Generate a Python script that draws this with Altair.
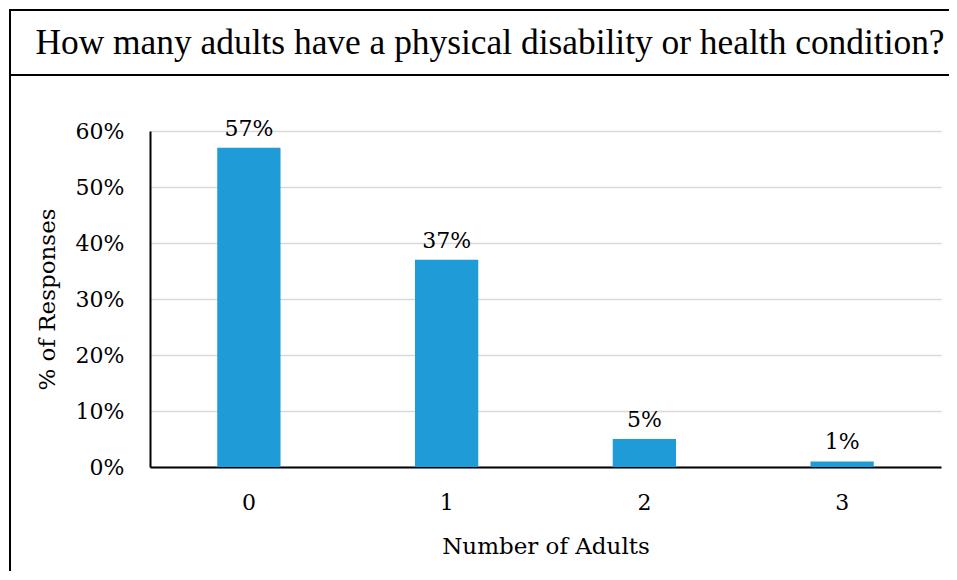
import altair as alt
import pandas as pd

title_text = "How many adults have a physical disability or health condition?"
categories = ["0", "1", "2", "3"]
shares = [0.57, 0.37, 0.05, 0.01]
labels = ["57%", "37%", "5%", "1%"]

df = pd.DataFrame({"adults": categories, "share": shares, "label": labels})

FONT = "DejaVu Serif"

x_enc = alt.X("adults:N", sort=categories, title="Number of Adults",
              scale=alt.Scale(paddingInner=0.68, paddingOuter=0.34),
              axis=alt.Axis(labelAngle=0, labelPadding=25, titlePadding=22,
                            ticks=False, domainColor="black", domainWidth=2))
y_enc = alt.Y("share:Q", title="% of Responses",
              scale=alt.Scale(domain=[0, 0.6]),
              axis=alt.Axis(format=".0%", values=[0, 0.1, 0.2, 0.3, 0.4, 0.5, 0.6],
                            ticks=False, labelPadding=26, titlePadding=16,
                            domainColor="black", domainWidth=2,
                            gridColor="#d9d9d9", gridWidth=1.5))

base = alt.Chart(df)
bars = base.mark_bar(color="#1f9bd7").encode(x=x_enc, y=y_enc)
texts = base.mark_text(baseline="bottom", dy=-7, fontSize=22, font=FONT, color="black").encode(
    x=alt.X("adults:N", sort=categories), y="share:Q", text="label:N")

deco = pd.DataFrame({"t": [title_text]})
top_line = alt.Chart(deco).mark_rule(color="black", strokeWidth=2).encode(
    x=alt.value(-141), x2=alt.value(799), y=alt.value(-121))
left_line = alt.Chart(deco).mark_rule(color="black", strokeWidth=2).encode(
    x=alt.value(-140), y=alt.value(-122), y2=alt.value(441))
sep = alt.Chart(deco).mark_rule(color="black", strokeWidth=2).encode(
    x=alt.value(-140), x2=alt.value(799), y=alt.value(-56))
title = alt.Chart(deco).mark_text(font="Liberation Serif", fontSize=35.4, color="black",
                                  align="center", baseline="middle").encode(
    text="t:N", x=alt.value(340), y=alt.value(-88))

chart = alt.layer(bars, texts, top_line, left_line, sep, title).properties(
    width=791, height=336,
    autosize=alt.AutoSizeParams(type="none"),
    padding={"left": 142, "top": 123, "right": 8, "bottom": 104},
).configure_view(stroke=None).configure_axis(
    labelFont=FONT, titleFont=FONT, labelFontSize=22, titleFontSize=23,
    labelColor="black", titleColor="black", titleFontWeight="normal",
)

chart.save("out.html", embed_options={"renderer": "svg", "actions": False})
